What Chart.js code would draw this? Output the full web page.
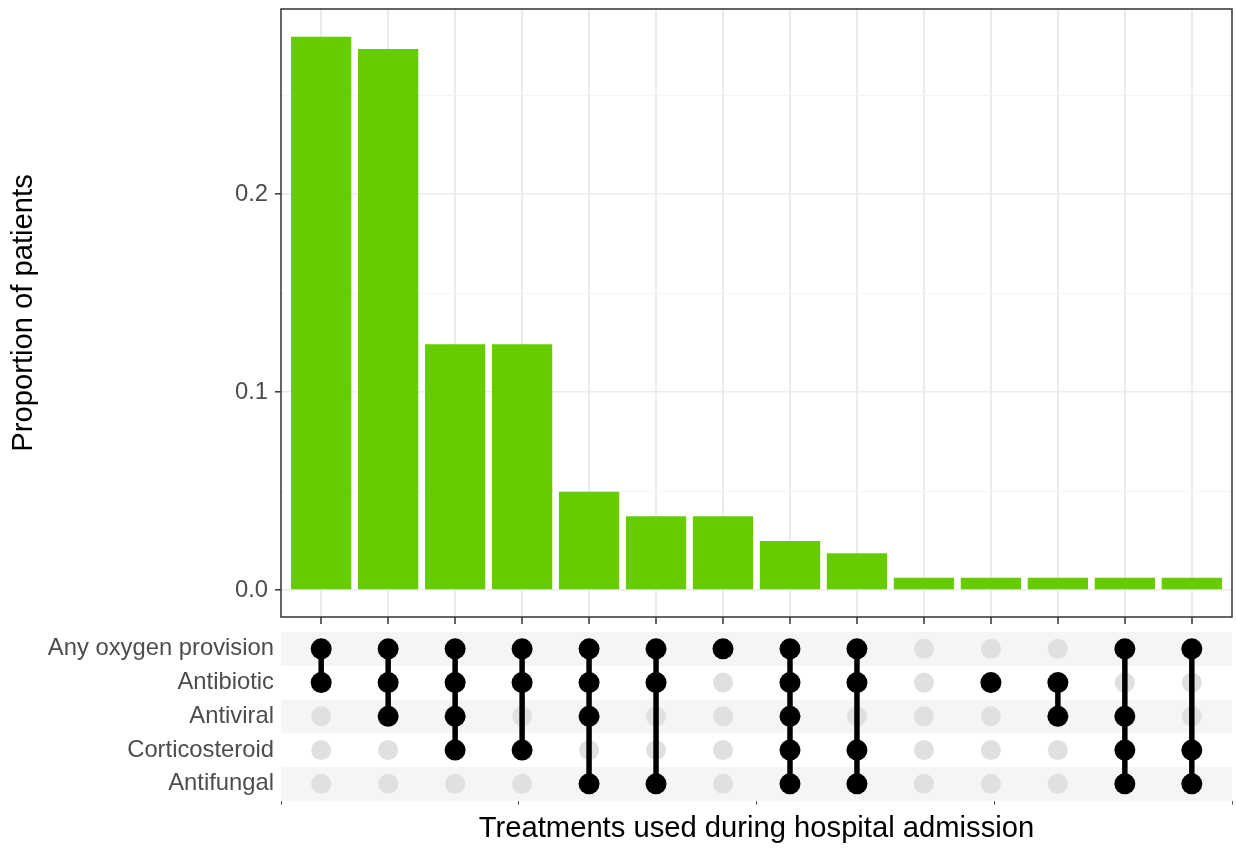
<!DOCTYPE html>
<html>
<head>
<meta charset="utf-8">
<script src="https://cdn.jsdelivr.net/npm/chart.js@4/dist/chart.umd.min.js"></script>
<style>
  html, body { margin: 0; padding: 0; background: #ffffff; }
  #wrap { position: relative; width: 1236px; height: 848px; overflow: hidden; }
  #barCanvas { position: absolute; left: 0; top: 0; }
  #matCanvas { position: absolute; left: 0; top: 625px; }
</style>
</head>
<body>
<div id="wrap">
  <canvas id="barCanvas" width="1236" height="625"></canvas>
  <canvas id="matCanvas" width="1236" height="223"></canvas>
</div>
<script>
// ---------------- DATA ----------------
const treatments = ['Any oxygen provision', 'Antibiotic', 'Antiviral', 'Corticosteroid', 'Antifungal'];

const categories = [
  'Oxygen + Antibiotic',
  'Oxygen + Antibiotic + Antiviral',
  'Oxygen + Antibiotic + Antiviral + Corticosteroid',
  'Oxygen + Antibiotic + Corticosteroid',
  'Oxygen + Antibiotic + Antiviral + Antifungal',
  'Oxygen + Antibiotic + Antifungal',
  'Oxygen',
  'All five',
  'Oxygen + Antibiotic + Corticosteroid + Antifungal',
  'None',
  'Antibiotic',
  'Antibiotic + Antiviral',
  'Oxygen + Antiviral + Corticosteroid + Antifungal',
  'Oxygen + Corticosteroid + Antifungal'
];

const proportions = [0.2795, 0.2733, 0.1242, 0.1242, 0.0497, 0.0373, 0.0373,
                     0.0248, 0.0186, 0.0062, 0.0062, 0.0062, 0.0062, 0.0062];

// indices into treatments for each category
const setMembers = [
  [0, 1], [0, 1, 2], [0, 1, 2, 3], [0, 1, 3], [0, 1, 2, 4], [0, 1, 4], [0],
  [0, 1, 2, 3, 4], [0, 1, 3, 4], [], [1], [1, 2], [0, 2, 3, 4], [0, 3, 4]
];

const yTickValues = [0, 0.05, 0.1, 0.15, 0.2, 0.25];
const matrixTickFractions = [0, 0.25, 0.5, 0.75, 1];

// ---------------- STYLE ----------------
const FONT = "'Liberation Sans', Arial, Helvetica, sans-serif";
const AXIS_TEXT = 23.8;
const TITLE_TEXT = 29.2;
const LEFT = 281;
const XMIN = -0.6, XMAX = categories.length - 1 + 0.6;

function isMajor(v) { return Math.abs(Math.round(v * 10) - v * 10) < 1e-6; }
function zeroPad(s) { s.paddingTop = 0; s.paddingBottom = 0; s.paddingLeft = 0; s.paddingRight = 0; }

const borderPlugin = {
  id: 'panelBorder',
  afterDraw(chart) {
    const a = chart.chartArea, ctx = chart.ctx;
    ctx.save();
    ctx.strokeStyle = '#333333';
    ctx.lineWidth = 1.5;
    ctx.strokeRect(a.left, a.top, a.right - a.left, a.bottom - a.top);
    ctx.restore();
  }
};

// ---------------- BAR CHART ----------------
new Chart(document.getElementById('barCanvas'), {
  type: 'bar',
  data: {
    datasets: [{
      data: proportions.map((v, i) => ({ x: i, y: v })),
      backgroundColor: '#66cc00',
      borderWidth: 0,
      barPercentage: 0.9,
      categoryPercentage: 1.0
    }]
  },
  options: {
    responsive: false,
    animation: false,
    devicePixelRatio: 1,
    layout: { padding: { top: 9, right: 4, bottom: 0, left: 0 } },
    plugins: { legend: { display: false }, tooltip: { enabled: false } },
    scales: {
      x: {
        type: 'linear',
        offset: false,
        min: XMIN, max: XMAX,
        afterBuildTicks: s => { s.ticks = categories.map((c, i) => ({ value: i })); },
        afterFit: s => { s.height = 8; zeroPad(s); },
        ticks: { display: false },
        border: { display: false },
        grid: { offset: false, color: '#ebebeb', lineWidth: 2, tickLength: 7, tickColor: '#333333', tickWidth: 1.5 }
      },
      y: {
        type: 'linear',
        min: -0.0136, max: 0.2935,
        afterBuildTicks: s => { s.ticks = yTickValues.map(v => ({ value: v })); },
        afterFit: s => { s.width = LEFT; zeroPad(s); },
        border: { display: false },
        ticks: {
          color: '#4d4d4d', padding: 7,
          font: { family: FONT, size: AXIS_TEXT },
          callback: v => isMajor(v) ? v.toFixed(1) : ''
        },
        grid: {
          color: c => isMajor(c.tick.value) ? '#ebebeb' : '#f4f4f4',
          lineWidth: c => isMajor(c.tick.value) ? 1.6 : 1,
          tickLength: 6,
          tickColor: c => isMajor(c.tick.value) ? '#333333' : 'rgba(0,0,0,0)',
          tickWidth: 1.5
        },
        title: {
          display: true, text: 'Proportion of patients', color: '#000000',
          font: { family: FONT, size: TITLE_TEXT }, padding: { top: 6, bottom: 0 }
        }
      }
    }
  },
  plugins: [borderPlugin]
});

// ---------------- MATRIX ----------------
const grayPts = [], blackPts = [], lineSets = [];
categories.forEach((c, i) => {
  treatments.forEach((t, r) => {
    if (setMembers[i].includes(r)) blackPts.push({ x: i, y: r });
    else grayPts.push({ x: i, y: r });
  });
  if (setMembers[i].length > 1) {
    const lo = Math.min(...setMembers[i]), hi = Math.max(...setMembers[i]);
    lineSets.push({
      type: 'line',
      data: [{ x: i, y: lo }, { x: i, y: hi }],
      borderColor: '#000000', borderWidth: 5.5,
      pointRadius: 0, order: 1, xAxisID: 'x', yAxisID: 'y'
    });
  }
});

const stripePlugin = {
  id: 'stripes',
  beforeDatasetsDraw(chart) {
    const a = chart.chartArea, ctx = chart.ctx, ys = chart.scales.y;
    ctx.save();
    ctx.fillStyle = '#f5f5f5';
    treatments.forEach((t, r) => {
      if (r % 2 === 0) {
        const y0 = ys.getPixelForValue(r - 0.5), y1 = ys.getPixelForValue(r + 0.5);
        ctx.fillRect(a.left, Math.min(y0, y1), a.right - a.left, Math.abs(y1 - y0));
      }
    });
    ctx.restore();
  }
};

new Chart(document.getElementById('matCanvas'), {
  type: 'scatter',
  data: {
    datasets: [
      { data: blackPts, backgroundColor: '#000000', borderWidth: 0, pointRadius: 10.5, order: 0, xAxisID: 'x', yAxisID: 'y' },
      ...lineSets,
      { data: grayPts, backgroundColor: '#e0e0e0', borderWidth: 0, pointRadius: 10, order: 2, xAxisID: 'x', yAxisID: 'y' }
    ]
  },
  options: {
    responsive: false,
    animation: false,
    devicePixelRatio: 1,
    layout: { autoPadding: false, padding: { top: 7, right: 4, bottom: 0, left: 0 } },
    plugins: { legend: { display: false }, tooltip: { enabled: false } },
    scales: {
      x: {
        type: 'linear', offset: false, min: XMIN, max: XMAX, display: false,
        afterFit: s => { zeroPad(s); }
      },
      x2: {
        type: 'linear', position: 'bottom', offset: false, min: 0, max: 1,
        afterBuildTicks: s => { s.ticks = matrixTickFractions.map(v => ({ value: v })); },
        afterFit: s => { s.height = 47.3; zeroPad(s); },
        ticks: { display: false },
        border: { display: false },
        grid: { drawOnChartArea: false, tickLength: 4, tickColor: '#555555', tickWidth: 1 },
        title: {
          display: true, text: 'Treatments used during hospital admission', color: '#000000',
          font: { family: FONT, size: TITLE_TEXT }, padding: { top: 0, bottom: 2 }
        }
      },
      y: {
        type: 'linear', reverse: true, min: -0.5, max: treatments.length - 0.5,
        afterBuildTicks: s => { s.ticks = treatments.map((t, r) => ({ value: r })); },
        afterFit: s => { s.width = LEFT; zeroPad(s); },
        border: { display: false },
        grid: { display: false, drawTicks: false },
        ticks: {
          color: '#4d4d4d', padding: 7,
          font: { family: FONT, size: AXIS_TEXT },
          callback: v => treatments[Math.round(v)]
        }
      }
    }
  },
  plugins: [stripePlugin]
});
</script>
</body>
</html>
